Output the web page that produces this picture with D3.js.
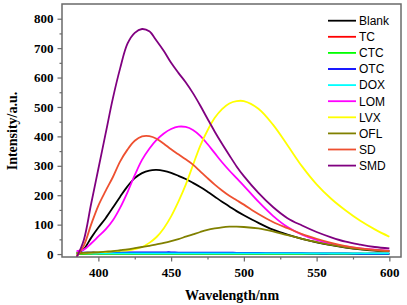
<!DOCTYPE html>
<html>
<head>
<meta charset="utf-8">
<script src="https://cdn.jsdelivr.net/npm/d3@7"></script>
<style>
  body { margin: 0; background: #fff; }
  svg { display: block; }
</style>
</head>
<body>
<script>
// wavelength (nm)
var wl = [385,390,395,400,405,410,415,420,425,430,435,440,445,450,455,460,465,470,475,480,485,490,495,500,510,520,530,540,550,560,570,580,590,600];

var names = ["Blank","TC","CTC","OTC","DOX","LOM","LVX","OFL","SD","SMD"];
var colors = ["#000000","#ff0000","#00ff00","#0000ff","#00ffff","#ff00ff","#ffff00","#808000","#ee5030","#800080"];

var blank = [2,17,55,90,122,158,195,230,258,275,284,286,283,276,266,255,242,228,212,195,178,162,146,132,106,83,66,52,40,30,22,16,12,10];
var tc    = [1,1,1,1,1,1,1,1,1,1,1,1,1,1,1,1,1,1,1,1,1,1,1,1,1,1,1,1,1,1,1,1,1,1];
var ctc   = [1,1,1,1,1,1,1,1,1,1,1,1,1,1,1,1,1,1,1,1,1,1,1,1,1,1,1,1,1,1,1,1,1,1];
var otc   = [5,5,6,6,6,6,6,6,6,6,6,6,6,6,5,5,5,5,5,5,5,5,4,4,4,3,3,3,2,2,2,1,1,1];
var dox   = [3,3,2,2,2,2,2,2,2,2,2,2,2,2,2,2,2,2,2,2,2,2,2,2,2,2,2,2,2,2,2,2,2,2];
var lom   = [10,15,36,60,84,115,158,210,268,320,358,388,410,425,433,432,422,402,374,343,312,284,258,232,178,130,92,66,48,35,26,19,15,12];
var lvx   = [3,4,5,6,7,9,11,13,17,24,38,58,88,128,178,235,302,368,420,463,493,512,520,520,494,440,370,298,237,188,148,113,84,59];
var ofl   = [3,4,5,6,8,10,13,16,20,24,28,33,38,44,51,59,67,75,82,87,91,93,93,92,87,77,64,52,41,31,23,17,13,10];
var sd    = [-8,29,100,165,215,262,315,355,385,400,401,392,375,356,339,322,304,281,258,236,216,198,183,168,136,109,88,68,52,38,27,19,14,11];
var smd   = [-12,48,170,290,410,530,632,715,752,765,757,725,690,650,616,584,547,505,460,416,375,336,298,265,208,160,122,97,75,57,42,32,24,19];

var series = [blank, tc, ctc, otc, dox, lom, lvx, ofl, sd, smd];

var xMajor = [400,450,500,550,600];
var xMinor = [425,475,525,575];
var yMajor = [0,100,200,300,400,500,600,700,800];
var yMinor = [50,150,250,350,450,550,650,750];

var W = 407, H = 305;
var margin = { left: 62, top: 4, right: 6, bottom: 48 };
var pw = W - margin.left - margin.right,
    ph = H - margin.top - margin.bottom;

var svg = d3.select("body").append("svg")
    .attr("width", W)
    .attr("height", H);

var g = svg.append("g")
    .attr("transform", "translate(" + margin.left + "," + margin.top + ")");

var x = d3.scaleLinear().domain([375, 608]).range([0, pw]);
var y = d3.scaleLinear().domain([-10, 850]).range([ph, 0]);

var axisColor = "#6a6a6a";
var tickFont = "'Liberation Serif', 'Times New Roman', serif";

// minor ticks
g.append("g").attr("transform", "translate(0," + ph + ")")
    .call(d3.axisBottom(x).tickValues(xMinor).tickSize(2.5).tickFormat(""))
    .call(function (a) { a.select(".domain").remove(); a.selectAll("line").attr("stroke", axisColor).attr("stroke-width", 1.2); });
g.append("g")
    .call(d3.axisLeft(y).tickValues(yMinor).tickSize(2.5).tickFormat(""))
    .call(function (a) { a.select(".domain").remove(); a.selectAll("line").attr("stroke", axisColor).attr("stroke-width", 1.2); });

// major ticks
var xAxis = g.append("g").attr("transform", "translate(0," + ph + ")")
    .call(d3.axisBottom(x).tickValues(xMajor).tickSize(4.5).tickPadding(6).tickSizeOuter(0));
var yAxis = g.append("g")
    .call(d3.axisLeft(y).tickValues(yMajor).tickSize(4.5).tickPadding(4).tickSizeOuter(0));

[xAxis, yAxis].forEach(function (a) {
    a.select(".domain").remove();
    a.selectAll("line").attr("stroke", axisColor).attr("stroke-width", 1.2);
    a.selectAll("text")
        .attr("fill", "#000")
        .style("font-family", tickFont)
        .style("font-weight", "bold")
        .style("font-size", "13px");
});

// curves
var line = d3.line()
    .x(function (d, i) { return x(wl[i]); })
    .y(function (d) { return y(d); })
    .curve(d3.curveCatmullRom.alpha(0.5));

g.append("defs").append("clipPath").attr("id", "clip")
    .append("rect").attr("width", pw).attr("height", ph);

g.append("g").attr("clip-path", "url(#clip)")
    .selectAll("path")
    .data(series)
    .join("path")
    .attr("d", line)
    .attr("fill", "none")
    .attr("stroke", function (d, i) { return colors[i]; })
    .attr("stroke-width", 1.8);

// frame
g.append("rect")
    .attr("width", pw).attr("height", ph)
    .attr("fill", "none")
    .attr("stroke", axisColor)
    .attr("stroke-width", 1.5);

// legend
var legend = g.append("g").attr("transform", "translate(" + (328 - margin.left) + "," + (20.7 - margin.top) + ")");
var rows = legend.selectAll("g").data(names).join("g")
    .attr("transform", function (d, i) { return "translate(0," + (i * 16.1) + ")"; });
rows.append("line")
    .attr("x1", 0).attr("x2", 28)
    .attr("stroke", function (d, i) { return colors[i]; })
    .attr("stroke-width", 1.8);
rows.append("text")
    .attr("x", 31).attr("dy", "0.36em")
    .style("font-family", "'Liberation Sans', Arial, sans-serif")
    .style("font-size", "12px")
    .text(function (d) { return d; });

// axis titles
svg.append("text")
    .attr("x", 232).attr("y", 300)
    .attr("text-anchor", "middle")
    .style("font-family", tickFont)
    .style("font-weight", "bold")
    .style("font-size", "14px")
    .text("Wavelength/nm");

svg.append("text")
    .attr("transform", "translate(17,131) rotate(-90)")
    .attr("text-anchor", "middle")
    .style("font-family", tickFont)
    .style("font-weight", "bold")
    .style("font-size", "14px")
    .text("Intensity/a.u.");
</script>
</body>
</html>
